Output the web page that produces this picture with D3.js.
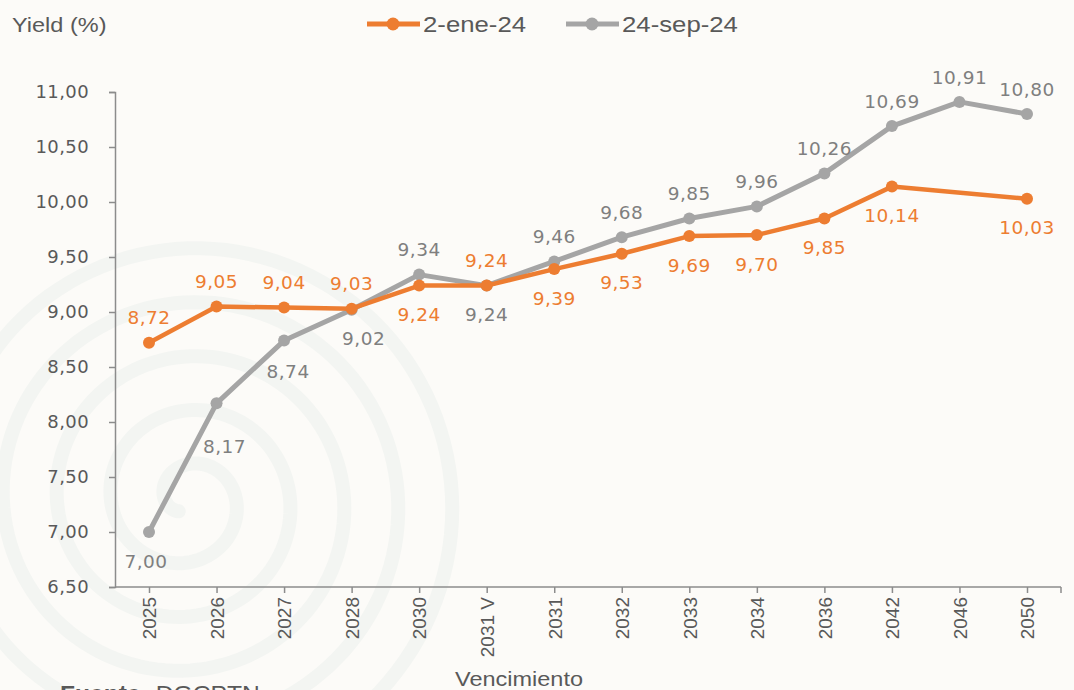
<!DOCTYPE html>
<html>
<head>
<meta charset="utf-8">
<script src="https://cdn.jsdelivr.net/npm/d3@7"></script>
<style>
  html, body { margin: 0; padding: 0; background: #fcfbf8; }
  svg { display: block; }
</style>
</head>
<body>
<script>
var WIDTH = 1074;
var HEIGHT = 690;

// data
var categories = ["2025", "2026", "2027", "2028", "2030", "2031 V", "2031", "2032", "2033", "2034", "2036", "2042", "2046", "2050"];
var jan24 = [8.72, 9.05, 9.04, 9.03, 9.24, 9.24, 9.39, 9.53, 9.69, 9.70, 9.85, 10.14, null, 10.03];
var sep24 = [7.00, 8.17, 8.74, 9.02, 9.34, 9.24, 9.46, 9.68, 9.85, 9.96, 10.26, 10.69, 10.91, 10.80];
var seriesNames = ["2-ene-24", "24-sep-24"];
var yTicks = [6.5, 7, 7.5, 8, 8.5, 9, 9.5, 10, 10.5, 11];
// which side of the point each value label sits (1 = above, -1 = below)
var janLabelSide = [1, 1, 1, 1, -1, 1, -1, -1, -1, -1, -1, -1, 0, -1];
var sepLabelSide = [-1, -1, -1, -1, 1, -1, 1, 1, 1, 1, 1, 1, 1, 1];

var ORANGE = "#ED7D31";
var GREY = "#A5A5A5";
var TXT = "#595959";
var STRETCH = 1.12; // the source picture is a bit wider than normal Arial

var svg = d3.select("body")
  .append("svg")
  .attr("width", WIDTH)
  .attr("height", HEIGHT);

svg.append("rect")
  .attr("width", WIDTH)
  .attr("height", HEIGHT)
  .attr("fill", "#fcfbf8");

// faint spiral watermark in the background
function drawWatermark() {
  var pts = [];
  for (var a = 0; a <= Math.PI * 2 * 5; a += 0.05) {
    pts.push([a, 14 + 54 * a / (Math.PI * 2)]);
  }
  var spiral = d3.lineRadial()
    .angle(function (d) { return d[0] + Math.PI * 1.2; })
    .radius(function (d) { return d[1]; });
  svg.append("path")
    .attr("transform", "translate(187,500)")
    .attr("d", spiral(pts))
    .attr("fill", "none")
    .attr("stroke", "#f3f5f2")
    .attr("stroke-width", 14)
    .attr("stroke-linecap", "round");
}
drawWatermark();

// arial-ish text, widened a little to match the source
function wideText(parent, x, y, size, str, anchor) {
  var t = parent.append("text")
    .attr("transform", "translate(" + x + "," + y + ") scale(" + STRETCH + ",1)")
    .attr("fill", TXT)
    .attr("text-anchor", anchor || "start")
    .style("font-family", "Liberation Sans")
    .style("font-size", size + "px");
  if (str) t.text(str);
  return t;
}

var x = d3.scalePoint()
  .domain(categories)
  .range([149, 1027]);

var y = d3.scaleLinear()
  .domain([6.5, 11])
  .range([587, 92]);

var fmt = function (v) {
  return d3.format(".2f")(v).replace(".", ",");
};

// y axis
var yAxis = svg.append("g")
  .attr("transform", "translate(115,0)")
  .call(d3.axisLeft(y).tickValues(yTicks).tickSize(6).tickPadding(20).tickFormat(fmt));
yAxis.select(".domain").attr("stroke", "#8c8c8c").attr("stroke-width", 1.5);
yAxis.selectAll(".tick line").attr("stroke", "#8c8c8c").attr("stroke-width", 1.5);
yAxis.selectAll(".tick text")
  .attr("fill", TXT)
  .style("font-family", "DejaVu Sans")
  .style("font-size", "18px")
  .style("letter-spacing", "0.4px");

// x axis
var xAxis = svg.append("g")
  .attr("transform", "translate(0,587)")
  .call(d3.axisBottom(x).tickSize(6).tickSizeOuter(0));
xAxis.select(".domain")
  .attr("d", "M115,0H1061")
  .attr("stroke", "#8c8c8c").attr("stroke-width", 1.5);
xAxis.selectAll(".tick line").attr("stroke", "#8c8c8c").attr("stroke-width", 1.5);
xAxis.append("line")
  .attr("x1", 1061).attr("x2", 1061)
  .attr("y1", 0).attr("y2", 6)
  .attr("stroke", "#8c8c8c").attr("stroke-width", 1.5);
xAxis.selectAll(".tick text")
  .attr("fill", TXT)
  .attr("transform", "rotate(-90)")
  .attr("text-anchor", "end")
  .attr("x", -10)
  .attr("y", 0)
  .attr("dy", "0.36em")
  .style("font-family", "Liberation Sans")
  .style("font-size", "19px");

// series
function drawSeries(values, color, width, labelSide) {
  var pts = categories.map(function (c, i) {
    return { cat: c, v: values[i], side: labelSide[i] };
  }).filter(function (d) { return d.v != null; });

  var line = d3.line()
    .x(function (d) { return x(d.cat); })
    .y(function (d) { return y(d.v); });

  var g = svg.append("g");
  g.append("path")
    .datum(pts)
    .attr("d", line)
    .attr("fill", "none")
    .attr("stroke", color)
    .attr("stroke-width", width)
    .attr("stroke-linejoin", "round");

  g.selectAll("circle")
    .data(pts)
    .enter()
    .append("circle")
    .attr("cx", function (d) { return x(d.cat); })
    .attr("cy", function (d) { return y(d.v); })
    .attr("r", 6)
    .attr("fill", color);

  return pts;
}

// a few labels were pushed aside in the source to clear the line
var nudge = { "7.00": [-3, 0], "8.17": [8, 14], "8.74": [4, 2], "9.02": [12, 0] };

function drawLabels(pts, labelColor, nudges) {
  svg.append("g")
    .selectAll("text")
    .data(pts)
    .enter()
    .append("text")
    .attr("x", function (d) {
      var n = nudges && nudges[d.v.toFixed(2)];
      return x(d.cat) + (n ? n[0] : 0);
    })
    .attr("y", function (d) {
      var n = nudges && nudges[d.v.toFixed(2)];
      return y(d.v) + (d.side > 0 ? -25 : 29) + (n ? n[1] : 0);
    })
    .attr("dy", "0.36em")
    .attr("text-anchor", "middle")
    .attr("fill", labelColor)
    .style("font-family", "DejaVu Sans")
    .style("font-size", "18.5px")
    .style("letter-spacing", "0.5px")
    .text(function (d) { return fmt(d.v); });
}

var sepPts = drawSeries(sep24, GREY, 5, sepLabelSide);
var janPts = drawSeries(jan24, ORANGE, 4.5, janLabelSide);
drawLabels(sepPts, "#7f7f7f", nudge);
drawLabels(janPts, ORANGE, null);

// axis titles
wideText(svg, 12, 32, 21, "Yield (%)");
wideText(svg, 455, 686, 21, "Vencimiento");

// source note, cut by the bottom edge like in the source
var src = wideText(svg, 60, 701, 22, null);
src.append("tspan").attr("font-weight", "bold").text("Fuente: ");
src.append("tspan").text("DGCPTN");

// legend
var legendItems = [
  { name: seriesNames[0], color: ORANGE, x: 367 },
  { name: seriesNames[1], color: GREY, x: 566 }
];
var lg = svg.append("g");
legendItems.forEach(function (d) {
  lg.append("line")
    .attr("x1", d.x).attr("x2", d.x + 53)
    .attr("y1", 24).attr("y2", 24)
    .attr("stroke", d.color)
    .attr("stroke-width", 5);
  lg.append("circle")
    .attr("cx", d.x + 26)
    .attr("cy", 24)
    .attr("r", 6.5)
    .attr("fill", d.color);
  wideText(lg, d.x + 56, 32, 23, d.name);
});
</script>
</body>
</html>
